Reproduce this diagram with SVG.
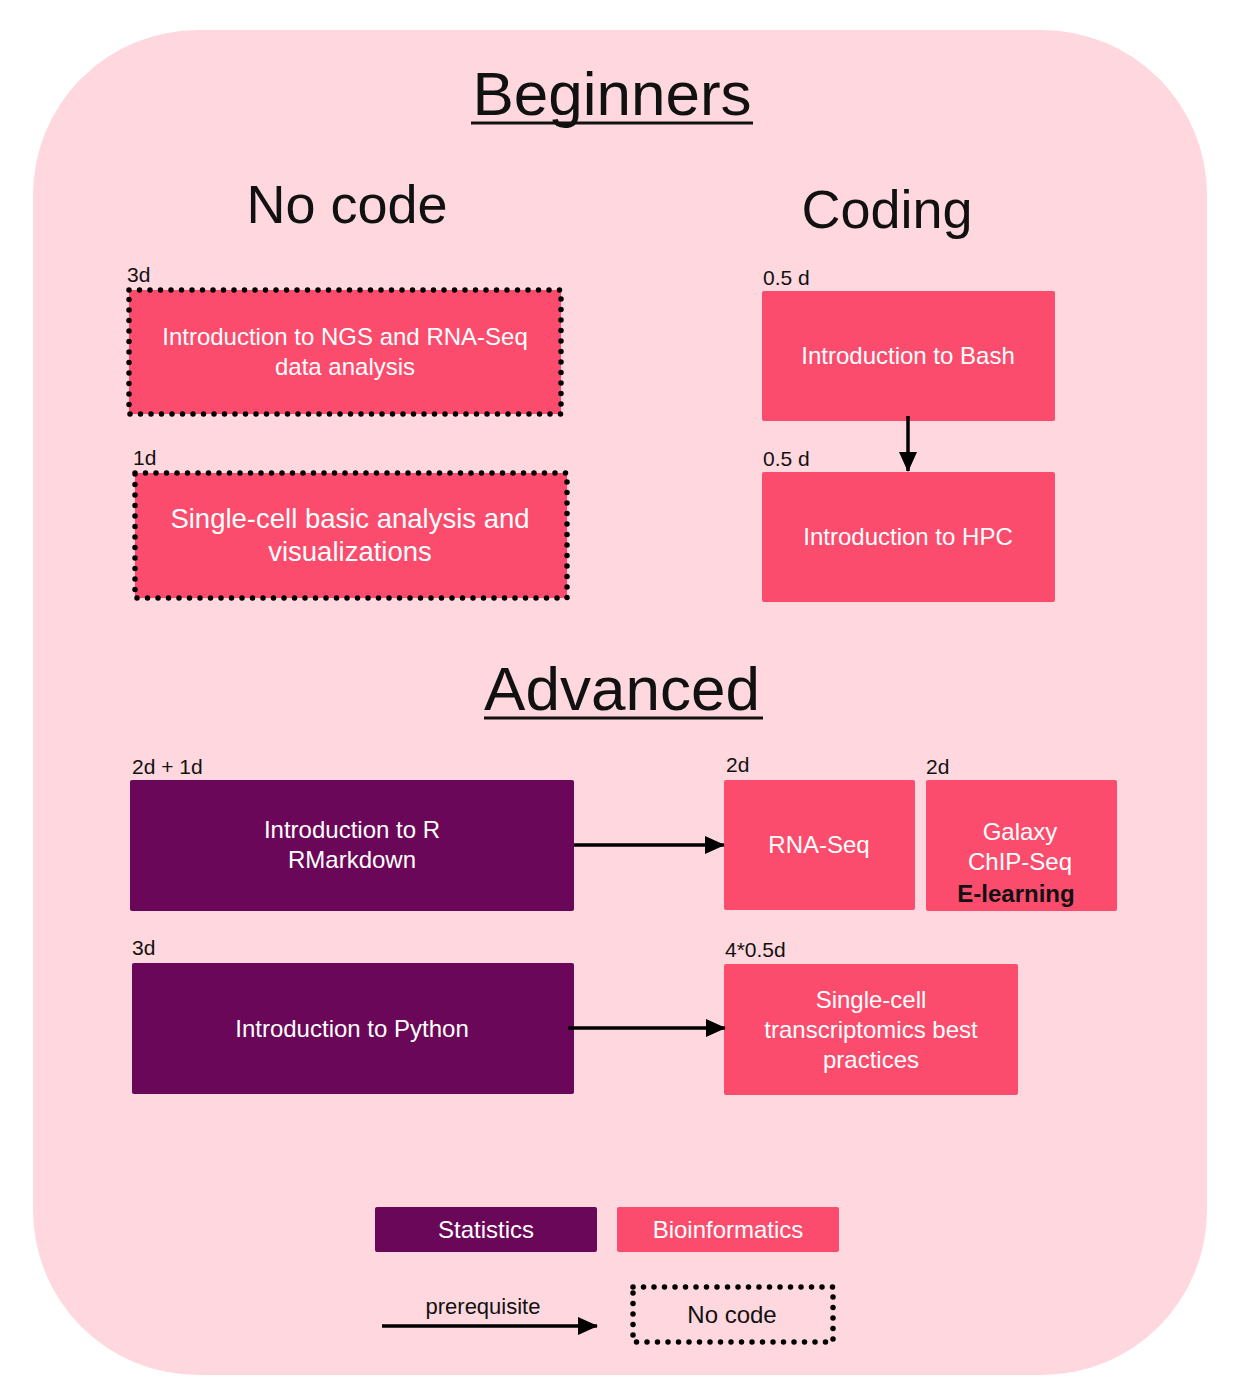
<svg xmlns="http://www.w3.org/2000/svg" width="1238" height="1392" viewBox="0 0 1238 1392">
<defs>
<marker id="ah" viewBox="0 0 20 18" refX="19" refY="9" markerWidth="20" markerHeight="18" markerUnits="userSpaceOnUse" orient="auto">
<path d="M0,0 L20,9 L0,18 z" fill="#000"/>
</marker>
</defs>
<style>
text{font-family:"Liberation Sans",Arial,sans-serif}
.bio{fill:#fc4c6d}
.stat{fill:#6b0758}
.dot{fill:none;stroke:#000;stroke-width:5.5;stroke-dasharray:0 10.5;stroke-linecap:round}
.wt{fill:#fff;font-size:24px;text-anchor:middle}
.lbl{fill:#111;font-size:21px}
.h1{fill:#111;font-size:62px;text-anchor:middle}
.h2{fill:#111;font-size:54px;text-anchor:middle}
.conn{stroke:#000;stroke-width:3.5;fill:none;marker-end:url(#ah)}
</style>
<rect width="1238" height="1392" fill="#fff"/>
<rect x="33" y="30" width="1174" height="1345" rx="165" fill="#fed8de"/>

<g id="headings">
<text class="h1" x="612" y="115">Beginners</text>
<line x1="471" y1="123" x2="753" y2="123" stroke="#111" stroke-width="3"/>
<text class="h2" x="347" y="223">No code</text>
<text class="h2" x="887" y="228">Coding</text>
<text class="h1" x="622" y="710">Advanced</text>
<line x1="484" y1="718" x2="763" y2="718" stroke="#111" stroke-width="3"/>
</g>

<g id="node-ngs">
<text class="lbl" x="127" y="282">3d</text>
<rect class="bio" x="129" y="290" width="432" height="124"/>
<rect class="dot" x="129" y="290" width="432" height="124"/>
<text class="wt" x="345" y="345">Introduction to NGS and RNA-Seq</text>
<text class="wt" x="345" y="375">data analysis</text>
</g>

<g id="node-sc">
<text class="lbl" x="133" y="465">1d</text>
<rect class="bio" x="135" y="473" width="432" height="125"/>
<rect class="dot" x="135" y="473" width="432" height="125"/>
<text class="wt" x="350" y="528" style="font-size:27.5px">Single-cell basic analysis and</text>
<text class="wt" x="350" y="561" style="font-size:27.5px">visualizations</text>
</g>

<g id="node-bash">
<text class="lbl" x="763" y="285">0.5 d</text>
<rect class="bio" x="762" y="291" width="293" height="130" rx="2"/>
<text class="wt" x="908" y="364">Introduction to Bash</text>
</g>

<g id="node-hpc">
<text class="lbl" x="763" y="466">0.5 d</text>
<rect class="bio" x="762" y="472" width="293" height="130" rx="2"/>
<text class="wt" x="908" y="545">Introduction to HPC</text>
</g>

<g id="node-r">
<text class="lbl" x="132" y="774">2d + 1d</text>
<rect class="stat" x="130" y="780" width="444" height="131" rx="2"/>
<text class="wt" x="352" y="838">Introduction to R</text>
<text class="wt" x="352" y="868">RMarkdown</text>
</g>

<g id="node-rnaseq">
<text class="lbl" x="726" y="772">2d</text>
<rect class="bio" x="724" y="780" width="191" height="130" rx="2"/>
<text class="wt" x="819" y="853">RNA-Seq</text>
</g>

<g id="node-galaxy">
<text class="lbl" x="926" y="774">2d</text>
<rect class="bio" x="926" y="780" width="191" height="131" rx="2"/>
<text class="wt" x="1020" y="840">Galaxy</text>
<text class="wt" x="1020" y="870">ChIP-Seq</text>
<text x="1016" y="902" style="font-size:24px;font-weight:bold;fill:#111;text-anchor:middle">E-learning</text>
</g>

<g id="node-python">
<text class="lbl" x="132" y="955">3d</text>
<rect class="stat" x="132" y="963" width="442" height="131" rx="2"/>
<text class="wt" x="352" y="1037">Introduction to Python</text>
</g>

<g id="node-scbest">
<text class="lbl" x="725" y="957">4*0.5d</text>
<rect class="bio" x="724" y="964" width="294" height="131" rx="2"/>
<text class="wt" x="871" y="1008">Single-cell</text>
<text class="wt" x="871" y="1038">transcriptomics best</text>
<text class="wt" x="871" y="1068">practices</text>
</g>

<g id="connectors">
<line class="conn" x1="908" y1="416" x2="908" y2="471"/>
<line class="conn" x1="574" y1="845" x2="724" y2="845"/>
<line class="conn" x1="568" y1="1028" x2="725" y2="1028"/>
</g>

<g id="legend">
<rect class="stat" x="375" y="1207" width="222" height="45" rx="2"/>
<text class="wt" x="486" y="1238">Statistics</text>
<rect class="bio" x="617" y="1207" width="222" height="45" rx="2"/>
<text class="wt" x="728" y="1238">Bioinformatics</text>
<line class="conn" x1="382" y1="1326" x2="597" y2="1326"/>
<text x="483" y="1314" style="font-size:22px;fill:#111;text-anchor:middle">prerequisite</text>
<rect class="dot" x="633" y="1287" width="200" height="55"/>
<text x="732" y="1323" style="font-size:24px;fill:#111;text-anchor:middle">No code</text>
</g>
</svg>
